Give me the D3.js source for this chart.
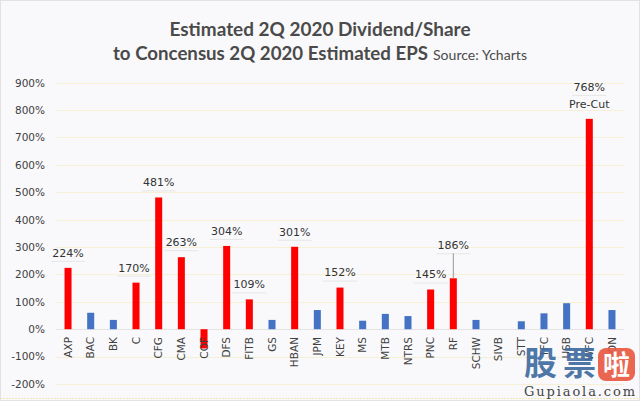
<!DOCTYPE html>
<html><head><meta charset="utf-8">
<script src="https://cdn.jsdelivr.net/npm/d3@7"></script>
<style>
html,body{margin:0;padding:0;background:#fff;}
svg{display:block;}
</style></head>
<body>
<svg id="c" width="640" height="401"></svg>
<script>
const categories = ["AXP","BAC","BK","C","CFG","CMA","COF","DFS","FITB","GS","HBAN","JPM","KEY","MS","MTB","NTRS","PNC","RF","SCHW","SIVB","STT","TFC","USB","WFC","ZION"];
const values = [224,60,34,170,481,263,-70,304,109,34,301,70,152,31,56,48,145,186,34,0,29,58,95,768,70];
const highlighted = ["AXP","C","CFG","CMA","COF","DFS","FITB","HBAN","KEY","PNC","RF","WFC"];
const labelled = ["AXP","C","CFG","CMA","DFS","FITB","HBAN","KEY","PNC","RF","WFC"];
const yTicks = [-200,-100,0,100,200,300,400,500,600,700,800,900];
const titleLine1 = "Estimated 2Q 2020 Dividend/Share";
const titleLine2 = "to Concensus 2Q 2020 Estimated EPS";
const sourceText = "Source: Ycharts";

const svg = d3.select("#c");
svg.append("rect").attr("width",640).attr("height",401).attr("fill","#f9f9fb");
svg.append("rect").attr("x",0.5).attr("y",0.5).attr("width",639).attr("height",400)
  .attr("fill","none").attr("stroke","#e2e2e2");
svg.append("line").attr("x1",0).attr("x2",640).attr("y1",398.5).attr("y2",398.5)
  .attr("stroke","#f1e6b8").attr("stroke-dasharray","2,1");

const y = d3.scaleLinear().domain([-200,900]).range([384,82.7]);
const x = d3.scaleBand().domain(categories).range([56.7,623.3]).paddingInner(0.69).paddingOuter(0.345);

// gridlines
svg.append("g").selectAll("line").data(yTicks).join("line")
  .attr("x1",56).attr("x2",624)
  .attr("y1",d=>Math.round(y(d))+0.5).attr("y2",d=>Math.round(y(d))+0.5)
  .attr("stroke",d=>d===0?"#e4e4e4":"#f6f1d6").attr("stroke-width",1);

// y axis
const yAxis = d3.axisLeft(y).tickValues(yTicks).tickFormat(d=>d+"%").tickSize(0).tickPadding(0);
const gy = svg.append("g").attr("transform","translate(45,0)").call(yAxis);
gy.select(".domain").remove();
gy.selectAll("text").attr("font-family","DejaVu Sans").attr("font-size","10.5px").attr("fill","#404040");

// bars
svg.append("g").selectAll("rect").data(categories).join("rect")
  .attr("x",d=>x(d))
  .attr("width",x.bandwidth())
  .attr("y",(d,i)=>y(Math.max(0,values[i])))
  .attr("height",(d,i)=>Math.abs(y(values[i])-y(0)))
  .attr("fill",d=>highlighted.includes(d)?"#ff0000":"#4472c4");

// x axis labels
const xAxis = d3.axisBottom(x).tickSize(0).tickPadding(0);
const gx = svg.append("g").attr("transform","translate(0,337)").call(xAxis);
gx.select(".domain").remove();
gx.selectAll("text")
  .attr("font-family","DejaVu Sans").attr("font-size","10.5px").attr("fill","#404040")
  .attr("text-anchor","end").attr("dy","0.35em")
  .attr("transform","rotate(-90)").attr("x",0).attr("y",0);

// data labels
const lbl = svg.append("g").attr("font-family","DejaVu Sans").attr("font-size","11px").attr("fill","#333");
labelled.forEach(c=>{
  const i = categories.indexOf(c);
  const cx = x(c)+x.bandwidth()/2;
  const top = y(values[i]);
  let dy = 15, dx = 0;
  if(c==="C") dx = -2;
  if(c==="RF") dy = 33;
  if(c==="WFC") dy = 32;
  lbl.append("text").attr("x",cx+dx).attr("y",top-dy).attr("dy","0.35em")
    .attr("text-anchor","middle").text(values[i]+"%");
  lbl.append("line").attr("x1",cx+dx-17).attr("x2",cx+dx+17)
    .attr("y1",top-dy+8.5).attr("y2",top-dy+8.5).attr("stroke","#e6e6e6");
  if(c==="RF"){
    lbl.append("line").attr("x1",cx).attr("x2",cx).attr("y1",top-dy+8).attr("y2",top)
      .attr("stroke","#999");
  }
  if(c==="WFC"){
    lbl.append("text").attr("x",cx).attr("y",top-15).attr("dy","0.35em")
      .attr("text-anchor","middle").text("Pre-Cut");
  }
});

// title
svg.append("text").attr("x",320).attr("y",35.5).attr("text-anchor","middle")
  .attr("font-family","Lato").attr("font-weight",700).attr("font-size","19px").attr("fill","#4a4a4a")
  .attr("textLength",301).attr("lengthAdjust","spacingAndGlyphs")
  .text(titleLine1);
svg.append("text").attr("x",113).attr("y",60)
  .attr("font-family","Lato").attr("font-weight",700).attr("font-size","19px").attr("fill","#4a4a4a")
  .attr("textLength",315).attr("lengthAdjust","spacingAndGlyphs")
  .text(titleLine2);
svg.append("text").attr("x",433).attr("y",60)
  .attr("font-family","Lato").attr("font-weight",400).attr("font-size","13px").attr("fill","#4a4a4a")
  .attr("textLength",94).attr("lengthAdjust","spacingAndGlyphs")
  .text(sourceText);

// watermark
const wm = svg.append("g");
wm.append("text").attr("x",524).attr("y",375).attr("font-family","Noto Sans CJK SC").attr("font-weight",700)
  .attr("font-size","33px").attr("fill","#3c6aa0").attr("opacity",0.9)
  .attr("textLength",72).text("股票");
wm.append("rect").attr("x",598).attr("y",348).attr("width",37).attr("height",33).attr("rx",8)
  .attr("fill","#e8553d").attr("opacity",0.9);
wm.append("text").attr("x",616.5).attr("y",375).attr("text-anchor","middle").attr("font-family","Noto Sans CJK SC")
  .attr("font-weight",700).attr("font-size","27px").attr("fill","#fff").text("啦");
wm.append("text").attr("x",524).attr("y",396).attr("font-family","DejaVu Serif")
  .attr("font-size","13px").attr("fill","#444").attr("textLength",111).text("Gupiaola.com");
</script>
</body></html>
